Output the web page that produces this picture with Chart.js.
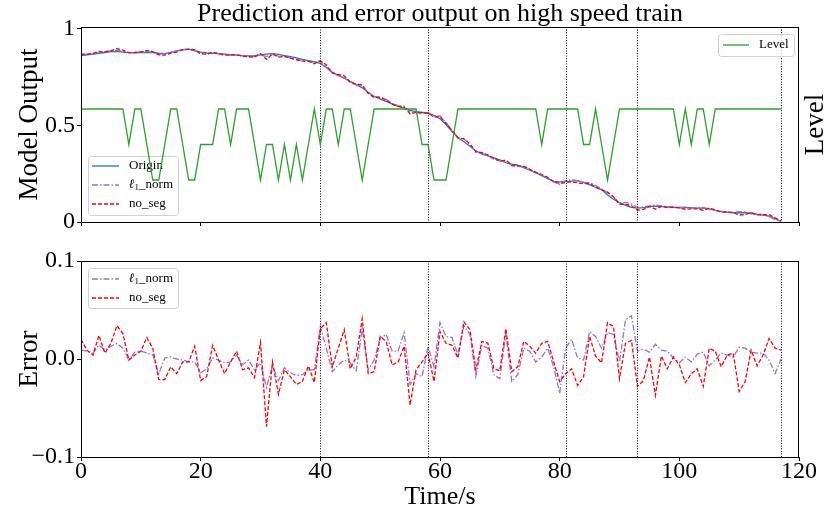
<!DOCTYPE html>
<html><head><meta charset="utf-8">
<script src="https://cdn.jsdelivr.net/npm/chart.js@4.4.0/dist/chart.umd.min.js"></script>
<style>
html,body{margin:0;padding:0;background:#fff;}
#wrap{position:relative;width:830px;height:515px;overflow:hidden;background:#fff;}
.box{position:absolute;left:0;width:830px;}
</style></head><body>
<div id="wrap">
<div class="box" style="top:0;height:240px"><canvas id="top" width="830" height="240"></canvas></div>
<div class="box" style="top:240px;height:275px"><canvas id="bot" width="830" height="275"></canvas></div>
</div>
<script>
// ---------------- data ----------------
const timeSec = Array.from({length:118}, (_, i) => i);
const origin = [
0.862,0.866,0.870,0.874,0.878,0.882,0.884,0.880,0.877,0.876,
0.878,0.879,0.878,0.874,0.872,0.878,0.886,0.893,0.895,0.888,
0.880,0.876,0.874,0.872,0.870,0.866,0.864,0.862,0.860,0.862,
0.866,0.870,0.872,0.868,0.862,0.856,0.850,0.842,0.836,0.830,
0.822,0.800,0.775,0.760,0.745,0.728,0.712,0.695,0.672,0.650,
0.638,0.625,0.612,0.600,0.590,0.578,0.572,0.568,0.562,0.552,
0.535,0.505,0.468,0.436,0.416,0.392,0.368,0.352,0.342,0.332,
0.322,0.308,0.300,0.294,0.282,0.268,0.256,0.240,0.225,0.210,
0.208,0.210,0.212,0.214,0.205,0.192,0.180,0.168,0.140,0.118,
0.100,0.086,0.076,0.072,0.074,0.080,0.082,0.080,0.078,0.076,
0.075,0.076,0.074,0.072,0.072,0.068,0.060,0.054,0.050,0.048,
0.049,0.048,0.044,0.040,0.036,0.030,0.018,0.002];
const l1NormOut = [
0.866,0.869,0.872,0.880,0.882,0.887,0.890,0.884,0.877,0.879,
0.881,0.881,0.880,0.868,0.872,0.879,0.886,0.893,0.894,0.887,
0.874,0.872,0.874,0.872,0.868,0.865,0.866,0.860,0.860,0.858,
0.864,0.858,0.869,0.859,0.858,0.850,0.843,0.836,0.832,0.826,
0.835,0.804,0.770,0.758,0.745,0.726,0.707,0.707,0.668,0.650,
0.646,0.635,0.615,0.603,0.601,0.568,0.566,0.561,0.567,0.549,
0.550,0.514,0.477,0.438,0.430,0.402,0.361,0.358,0.346,0.326,
0.314,0.318,0.291,0.288,0.286,0.271,0.255,0.241,0.229,0.207,
0.194,0.214,0.220,0.214,0.205,0.203,0.189,0.172,0.151,0.128,
0.099,0.102,0.094,0.075,0.078,0.083,0.088,0.084,0.081,0.076,
0.073,0.077,0.073,0.074,0.075,0.065,0.060,0.056,0.052,0.049,
0.054,0.052,0.047,0.042,0.038,0.030,0.012,0.002];
const noSegOut = [
0.870,0.870,0.872,0.884,0.880,0.888,0.898,0.890,0.877,0.878,
0.881,0.888,0.882,0.866,0.864,0.875,0.880,0.892,0.894,0.893,
0.871,0.869,0.880,0.872,0.864,0.865,0.867,0.858,0.856,0.854,
0.873,0.842,0.871,0.854,0.858,0.849,0.840,0.833,0.833,0.820,
0.834,0.815,0.772,0.764,0.757,0.724,0.713,0.711,0.666,0.645,
0.647,0.632,0.610,0.599,0.595,0.559,0.568,0.567,0.564,0.543,
0.546,0.511,0.474,0.436,0.431,0.404,0.364,0.359,0.348,0.328,
0.317,0.320,0.295,0.291,0.289,0.273,0.258,0.246,0.232,0.209,
0.199,0.204,0.208,0.203,0.198,0.201,0.181,0.166,0.155,0.131,
0.092,0.092,0.084,0.061,0.065,0.081,0.067,0.081,0.074,0.077,
0.073,0.066,0.068,0.068,0.061,0.072,0.063,0.051,0.052,0.050,
0.036,0.039,0.048,0.037,0.038,0.038,0.022,0.006];
const level = [
3,3,3,3,3,3,3,3,2,3,
3,2,1,1,2,3,3,2,1,1,
2,2,2,3,3,2,3,3,3,2,
1,2,2,1,2,1,2,1,2,3,
2,3,3,2,3,3,2,1,2,3,
3,3,3,3,3,3,3,2,2,1,
1,1,2,3,3,3,3,3,3,3,
3,3,3,3,3,3,3,2,3,3,
3,3,3,3,2,2,3,2,1,2,
3,3,3,3,3,3,3,3,3,3,
2,3,2,3,3,2,3,3,3,3,
3,3,3,3,3,3,3,3];
const l1NormErr = [
0.009,0.008,0.006,0.014,0.009,0.013,0.016,0.011,-0.001,0.007,
0.008,0.006,0.004,-0.015,0.001,0.002,0.000,-0.001,-0.003,-0.003,
-0.014,-0.010,0.001,-0.001,-0.004,-0.003,0.004,-0.006,-0.001,-0.011,
-0.004,-0.029,-0.007,-0.022,-0.009,-0.014,-0.017,-0.016,-0.011,-0.011,
0.033,0.011,-0.013,-0.006,-0.001,-0.004,-0.012,0.031,-0.011,-0.001,
0.021,0.025,0.008,0.008,0.027,-0.026,-0.015,-0.018,0.013,-0.008,
0.037,0.023,0.022,0.004,0.034,0.025,-0.018,0.014,0.011,-0.016,
-0.020,0.026,-0.023,-0.016,0.011,0.008,-0.003,0.002,0.011,-0.008,
-0.035,0.011,0.020,0.001,-0.001,0.028,0.023,0.011,0.027,0.025,
-0.003,0.040,0.044,0.008,0.010,0.007,0.015,0.009,0.008,0.001,
-0.004,0.002,-0.003,0.005,0.007,-0.007,-0.001,0.006,0.004,0.002,
0.012,0.011,0.007,0.006,0.006,-0.001,-0.015,0.000];
const noSegErr = [
0.020,0.009,0.004,0.024,0.006,0.016,0.034,0.026,-0.001,0.004,
0.008,0.022,0.011,-0.021,-0.021,-0.008,-0.015,-0.003,-0.003,0.013,
-0.022,-0.018,0.014,-0.001,-0.015,-0.003,0.008,-0.011,-0.009,-0.019,
0.017,-0.069,-0.003,-0.036,-0.011,-0.018,-0.026,-0.023,-0.007,-0.024,
0.031,0.037,-0.008,0.011,0.030,-0.010,0.002,0.041,-0.015,-0.013,
0.023,0.018,-0.006,-0.003,0.013,-0.047,-0.011,-0.003,0.006,-0.023,
0.028,0.016,0.014,0.001,0.038,0.030,-0.011,0.018,0.016,-0.010,
-0.012,0.031,-0.013,-0.008,0.018,0.013,0.006,0.016,0.018,-0.003,
-0.023,-0.015,-0.010,-0.027,-0.018,0.023,0.003,-0.004,0.037,0.033,
-0.020,0.016,0.019,-0.028,-0.022,0.002,-0.037,0.003,-0.010,0.002,
-0.006,-0.024,-0.015,-0.010,-0.028,0.011,0.008,-0.008,0.004,0.006,
-0.033,-0.023,0.009,-0.007,0.004,0.021,0.011,0.009];
const segmentBounds = [40, 58, 81, 93, 117];
const xTicks = [0, 20, 40, 60, 80, 100, 120];
const outTicks = [0, 0.5, 1];
const outTickLabels = ['0', '0.5', '1'];
const errTicks = [-0.1, 0, 0.1];
const errTickLabels = ['\u22120.1', '0.0', '0.1'];
const seriesNames = ['Origin', '\u21131_norm', 'no_seg', 'Level'];
const titleText = 'Prediction and error output on high speed train';

// ---------------- styling ----------------
const FONT = "'Liberation Serif', 'Times New Roman', serif";
const C_ORIGIN = '#1f77b4', C_L1 = '#9370DB', C_NOSEG = '#ff0000', C_LEVEL = '#2ca02c';
const DASH_L1 = [6, 2, 1.5, 2], DASH_NOSEG = [4, 2];
const LW = 1.3;
const RIGHT_GAP = 31;

function pts(arr) { return timeSec.map((t, i) => ({x: t, y: arr[i]})); }

function drawRichLabel(ctx, label, x, y) {
  let cx = x;
  let parts;
  if (label.startsWith('\u21131')) {
    parts = [['\u2113', 'italic bold 13px', 0], ['1', '9px', 3], [label.slice(2), '13px', 0]];
  } else parts = [[label, '13px', 0]];
  ctx.fillStyle = '#000';
  ctx.textAlign = 'left';
  ctx.textBaseline = 'middle';
  parts.forEach(([t, f, dy]) => {
    ctx.font = f + ' ' + FONT;
    ctx.fillText(t, cx, y + dy);
    cx += ctx.measureText(t).width;
  });
}
function roundRect(ctx, x, y, w, h, r) {
  ctx.beginPath();
  ctx.moveTo(x + r, y); ctx.lineTo(x + w - r, y); ctx.quadraticCurveTo(x + w, y, x + w, y + r);
  ctx.lineTo(x + w, y + h - r); ctx.quadraticCurveTo(x + w, y + h, x + w - r, y + h);
  ctx.lineTo(x + r, y + h); ctx.quadraticCurveTo(x, y + h, x, y + h - r);
  ctx.lineTo(x, y + r); ctx.quadraticCurveTo(x, y, x + r, y);
  ctx.closePath();
}
function drawLegend(chart, box, items) {
  const ctx = chart.ctx;
  ctx.save();
  roundRect(ctx, box.x + 0.5, box.y + 0.5, box.w, box.h, 3);
  ctx.fillStyle = 'rgba(255,255,255,0.8)';
  ctx.fill();
  ctx.strokeStyle = '#d0d0d0'; ctx.lineWidth = 1; ctx.stroke();
  items.forEach(it => {
    const ds = chart.data.datasets.find(d => d.label === it.label);
    ctx.beginPath();
    ctx.setLineDash(ds.borderDash || []);
    ctx.strokeStyle = ds.borderColor; ctx.lineWidth = LW;
    ctx.moveTo(it.x1, it.y); ctx.lineTo(it.x2, it.y); ctx.stroke();
    ctx.setLineDash([]);
    drawRichLabel(ctx, it.label, it.tx, it.y);
  });
  ctx.restore();
}
function drawSegments(chart) {
  const ctx = chart.ctx, a = chart.chartArea, xs = chart.scales.x;
  ctx.save();
  ctx.strokeStyle = '#000'; ctx.lineWidth = 1; ctx.setLineDash([1, 1.6]);
  segmentBounds.forEach(v => {
    const px = Math.round(xs.getPixelForValue(v)) + 0.5;
    ctx.beginPath(); ctx.moveTo(px, a.top); ctx.lineTo(px, a.bottom); ctx.stroke();
  });
  ctx.restore();
}
function drawFrame(chart) {
  const ctx = chart.ctx, a = chart.chartArea;
  ctx.save();
  ctx.strokeStyle = '#000'; ctx.lineWidth = 1;
  ctx.strokeRect(Math.round(a.left) + 0.5, Math.round(a.top) + 0.5, Math.round(a.right - a.left) - 1, Math.round(a.bottom - a.top));
  ctx.restore();
}

const decorTop = {
  id: 'decorTop',
  beforeDatasetDraw(chart, args) {
    if (chart.data.datasets[args.index].label !== 'Level') return;
    drawSegments(chart);
    drawLegend(chart, {x: 88, y: 156, w: 90, h: 59}, [
      {label: seriesNames[0], x1: 92, x2: 119, tx: 129, y: 166},
      {label: seriesNames[1], x1: 92, x2: 119, tx: 129, y: 185},
      {label: seriesNames[2], x1: 92, x2: 119, tx: 129, y: 204}
    ]);
  },
  afterDraw(chart) {
    const ctx = chart.ctx, a = chart.chartArea;
    drawFrame(chart);
    drawLegend(chart, {x: 718, y: 34, w: 76, h: 22}, [
      {label: seriesNames[3], x1: 723, x2: 749, tx: 759, y: 45}
    ]);
    ctx.save();
    ctx.fillStyle = '#000';
    ctx.font = '26px ' + FONT;
    ctx.textAlign = 'center'; ctx.textBaseline = 'alphabetic';
    ctx.fillText(titleText, (a.left + a.right) / 2, 21);
    ctx.translate(816, (a.top + a.bottom) / 2);
    ctx.rotate(-Math.PI / 2);
    ctx.font = '27px ' + FONT;
    ctx.textBaseline = 'middle';
    ctx.fillText(seriesNames[3], 0, 0);
    ctx.restore();
  }
};
const decorBot = {
  id: 'decorBot',
  afterDatasetsDraw(chart) {
    drawSegments(chart);
    drawLegend(chart, {x: 88, y: 28, w: 90, h: 40}, [
      {label: seriesNames[1], x1: 92, x2: 119, tx: 129, y: 39},
      {label: seriesNames[2], x1: 92, x2: 119, tx: 129, y: 58}
    ]);
  },
  afterDraw(chart) { drawFrame(chart); }
};

const tickFont = {family: FONT, size: 24};
const labelFont = {family: FONT, size: 27};
const tickGrid = {drawOnChartArea: false, drawTicks: true, tickLength: 4, color: '#000', lineWidth: 1};

new Chart(document.getElementById('top'), {
  type: 'line',
  data: {
    datasets: [
      {label: seriesNames[0], data: pts(origin), borderColor: C_ORIGIN, borderWidth: LW, pointRadius: 0, order: 3, yAxisID: 'y'},
      {label: seriesNames[1], data: pts(l1NormOut), borderColor: C_L1, borderWidth: LW, borderDash: DASH_L1, pointRadius: 0, order: 2, yAxisID: 'y'},
      {label: seriesNames[2], data: pts(noSegOut), borderColor: C_NOSEG, borderWidth: LW, borderDash: DASH_NOSEG, pointRadius: 0, order: 1, yAxisID: 'y'},
      {label: seriesNames[3], data: pts(level), borderColor: C_LEVEL, borderWidth: LW, pointRadius: 0, order: 0, yAxisID: 'y2'}
    ]
  },
  options: {
    responsive: false, animation: false, devicePixelRatio: 1,
    layout: {padding: {top: 27, left: 0, right: 0, bottom: 0}},
    plugins: {legend: {display: false}, tooltip: {enabled: false}, title: {display: false}},
    elements: {line: {tension: 0}},
    scales: {
      x: {
        type: 'linear', min: 0, max: 120, position: 'bottom',
        afterBuildTicks: s => { s.ticks = xTicks.map(v => ({value: v})); },
        ticks: {display: false},
        grid: tickGrid, border: {display: false},
        afterFit: s => { s.height = 18; }
      },
      y: {
        type: 'linear', position: 'left', min: 0, max: 1.01,
        afterBuildTicks: s => { s.ticks = outTicks.map(v => ({value: v})); },
        ticks: {font: tickFont, color: '#000', padding: 2, callback: v => outTickLabels[outTicks.indexOf(v)]},
        grid: tickGrid, border: {display: false},
        title: {display: true, text: 'Model Output', font: labelFont, color: '#000', padding: {top: 14, bottom: 0}},
        afterFit: s => { s.width = 81; }
      },
      y2: {
        type: 'linear', position: 'right', min: -0.183, max: 5.31,
        ticks: {display: false}, grid: {display: false}, border: {display: false},
        afterFit: s => { s.width = RIGHT_GAP; }
      }
    }
  },
  plugins: [decorTop]
});

new Chart(document.getElementById('bot'), {
  type: 'line',
  data: {
    datasets: [
      {label: seriesNames[1], data: pts(l1NormErr), borderColor: C_L1, borderWidth: LW, borderDash: DASH_L1, pointRadius: 0, order: 2},
      {label: seriesNames[2], data: pts(noSegErr), borderColor: C_NOSEG, borderWidth: LW, borderDash: DASH_NOSEG, pointRadius: 0, order: 1}
    ]
  },
  options: {
    responsive: false, animation: false, devicePixelRatio: 1,
    layout: {padding: {top: 21, left: 0, right: RIGHT_GAP, bottom: 0}},
    plugins: {legend: {display: false}, tooltip: {enabled: false}},
    elements: {line: {tension: 0}},
    scales: {
      x: {
        type: 'linear', min: 0, max: 120, position: 'bottom',
        afterBuildTicks: s => { s.ticks = xTicks.map(v => ({value: v})); },
        ticks: {font: tickFont, color: '#000', padding: -4, maxRotation: 0, callback: v => String(v)},
        grid: tickGrid, border: {display: false},
        title: {display: true, text: 'Time/s', font: {family: FONT, size: 26}, color: '#000', padding: {top: 0, bottom: 2}},
        afterFit: s => { s.height = 58; }
      },
      y: {
        type: 'linear', position: 'left', min: -0.1, max: 0.1,
        afterBuildTicks: s => { s.ticks = errTicks.map(v => ({value: v})); },
        ticks: {font: tickFont, color: '#000', padding: 2, callback: v => errTickLabels[errTicks.indexOf(v)]},
        grid: tickGrid, border: {display: false},
        title: {display: true, text: 'Error', font: labelFont, color: '#000', padding: {top: 14, bottom: 0}},
        afterFit: s => { s.width = 81; }
      }
    }
  },
  plugins: [decorBot]
});
</script>
</body></html>
